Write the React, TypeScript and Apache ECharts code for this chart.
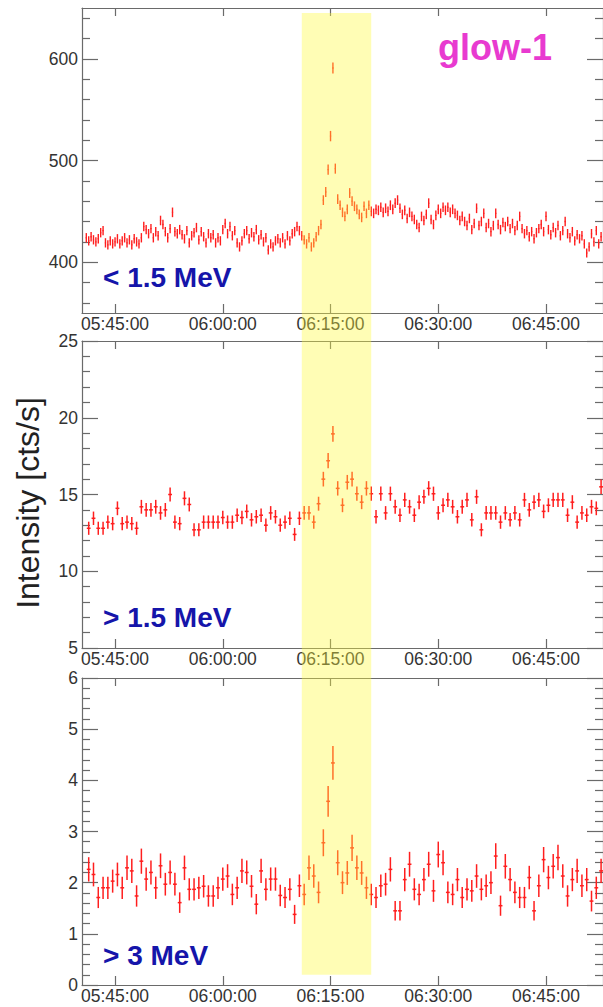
import React, { useEffect, useRef } from "react";
import * as echarts from "echarts";

// time in seconds since midnight (UT)
const X_MIN = 20424; // 05:40:24
const X_MAX = 24776; // 06:52:56
const X_TICKS = [20700, 21600, 22500, 23400, 24300]; // 05:45 ... 06:45
const BAND = [22260, 22840]; // highlighted glow interval

// panel 1 (< 1.5 MeV), 20 s bins
const P1_START = 20460;
const P1_STEP = 20;
const P1_EXPOSURE = 20;
const P1_VALUES = [
  424, 421, 425, 422, 420, 423,
  429, 431,
  419, 417, 421, 418, 420,
  423, 418, 421, 424, 419, 422, 417, 423, 420, 418, 424,
  435, 432,
  428, 433, 424, 430, 426,
  441, 437,
  430, 424, 433,
  449,
  430, 428, 432, 427,
  423, 431, 419, 426, 429,
  434, 422, 430, 425, 419, 428, 424,
  427, 419, 424, 421,
  432, 438, 428, 435, 426, 431,
  419, 415, 421,
  428, 431, 423, 429, 425, 432, 422, 427,
  420, 424, 412, 418, 415, 421, 423,
  419, 424, 418, 426, 421, 428, 430,
  435, 431,
  426, 422, 418, 424, 415, 419, 425,
  431, 437, 461,
  469, 491, 524, 591, 492,
  462, 456,
  449, 445, 452,
  468,
  460, 455, 452,
  447, 444, 455, 448,
  456, 450, 448, 452,
  451, 454, 449, 453, 450, 456, 452, 458,
  461, 453,
  447, 451, 443, 449, 445, 442,
  437, 434,
  445, 441, 447,
  458,
  442, 437, 446,
  452, 448, 454,
  451, 454, 449, 452, 448,
  446, 441, 445,
  440, 436, 443, 432,
  438, 453, 436, 440, 448,
  434, 438, 430, 436,
  448,
  437, 432, 439,
  435, 440, 433, 438, 431, 436,
  445,
  433, 428, 431, 425, 430, 423, 429,
  433, 437, 430,
  445,
  432, 427, 434, 429, 436, 426, 431,
  440,
  428, 424, 430, 421, 427, 423, 426,
  418, 409, 415,
  428, 420, 431, 418, 425,
];

// panels 2 and 3, 40 s bins
const P23_START = 20480;
const P23_STEP = 40;
const P2_EXPOSURE = 70;
const P3_EXPOSURE = 40;
const P2_VALUES = [
  12.8, 13.45, 12.8, 12.8, 13.2, 13.1, 14.1, 13.1, 13.2, 13.1,
  12.8, 14.2, 14.0, 14.0, 14.2, 13.8, 14.0, 15.0, 13.2, 13.1,
  14.75, 14.35, 12.7, 12.7, 13.2, 13.2, 13.2, 13.2, 13.5, 13.2,
  13.2, 13.65, 13.5, 13.9, 13.35, 13.55, 13.65, 13.0, 13.8, 13.55,
  13.0, 13.2, 13.45, 12.4, 13.45, 13.8, 13.8, 13.2, 14.4, 16.0,
  17.2, 18.95, 15.4, 14.3, 15.8, 16.0, 15.05, 14.5, 15.4, 15.05,
  13.55, 15.05, 13.8, 15.05, 14.2, 13.65, 14.65, 14.2, 13.65, 14.5,
  14.85, 15.4, 15.05, 13.8, 14.3, 14.65, 14.2, 13.55, 14.2, 14.65,
  13.35, 14.85, 12.7, 13.8, 13.8, 13.8, 13.2, 13.8, 13.35, 13.8,
  13.35, 14.65, 14.0, 14.5, 14.65, 13.9, 14.3, 14.65, 14.65, 14.65,
  13.65, 14.5, 13.2, 13.8, 13.65, 14.2, 14.1, 15.5,
];
const P3_VALUES = [
  2.26, 2.16, 1.71, 1.9, 1.9, 2.03, 2.16, 1.9, 2.29, 2.23,
  1.74, 2.42, 2.07, 2.2, 1.9, 2.33, 1.97, 2.2, 1.97, 1.61,
  2.29, 1.87, 1.87, 1.9, 1.93, 1.74, 1.74, 1.9, 2.07, 2.13,
  1.77, 1.9, 2.23, 2.2, 1.93, 1.58, 2.23, 1.87, 2.07, 2.07,
  1.75, 1.71, 1.87, 1.38, 1.94, 1.77, 2.29, 2.13, 1.81, 2.78,
  3.59, 4.34, 2.39, 2.0, 2.19, 2.68, 2.29, 2.19, 1.9, 1.77,
  1.71, 1.94, 1.97, 2.26, 1.45, 1.45, 2.06, 2.36, 1.87, 1.77,
  2.06, 2.36, 1.84, 2.55, 2.39, 1.81, 1.77, 2.06, 1.71, 1.87,
  1.84, 2.13, 1.87, 1.94, 2.0, 2.52, 1.55, 2.32, 2.06, 1.81,
  1.71, 1.71, 2.1, 1.45, 1.94, 2.45, 2.1, 2.32, 2.49, 2.13,
  1.74, 2.06, 2.23, 1.94, 2.06, 1.64, 1.9, 2.23,
];

const P1_MAJOR = [400, 500, 600];
const P1_MINOR = [360, 380, 420, 440, 460, 480, 520, 540, 560, 580, 620, 640];
const PANEL_LABELS = ["< 1.5 MeV", "> 1.5 MeV", "> 3 MeV"];
const TITLE = "glow-1";
const Y_NAME = "Intensity [cts/s]";

const FONT = '"Liberation Sans", Arial, Helvetica, sans-serif';
const FRAME = "#6a6a6a";
const RED = "#ff1e1e";

function fmtTime(s: number): string {
  const h = Math.floor(s / 3600);
  const m = Math.floor((s % 3600) / 60);
  const sec = Math.round(s % 60);
  const p = (n: number) => (n < 10 ? "0" + n : "" + n);
  return p(h) + ":" + p(m) + ":" + p(sec);
}

function xAxis(grid: number, position: string, labels: boolean, tickLen: number) {
  return {
    type: "value",
    gridIndex: grid,
    position,
    min: X_MIN,
    max: X_MAX,
    axisLine: { show: true, onZero: false, lineStyle: { color: FRAME, width: 1.2 } },
    axisTick: { show: true, inside: true, length: tickLen, customValues: X_TICKS, lineStyle: { color: FRAME, width: 1.2 } },
    axisLabel: {
      show: labels,
      customValues: X_TICKS,
      formatter: (v: number) => fmtTime(v),
      fontSize: 17.5,
      color: "#333",
      margin: 2,
      fontFamily: FONT,
    },
    splitLine: { show: false },
  };
}

function yAxisTicks(grid: number, position: string, min: number, max: number, values: number[], len: number, labels: boolean, line: boolean) {
  return {
    type: "value",
    gridIndex: grid,
    position,
    min,
    max,
    axisLine: { show: line, lineStyle: { color: FRAME, width: 1.2 } },
    axisTick: { show: true, inside: true, length: len, customValues: values, lineStyle: { color: FRAME, width: 1.2 } },
    axisLabel: { show: labels, customValues: values, fontSize: 17.5, color: "#333", margin: 4, fontFamily: FONT },
    splitLine: { show: false },
  };
}

function yAxisInterval(grid: number, position: string, min: number, max: number, interval: number, labels: boolean) {
  return {
    type: "value",
    gridIndex: grid,
    position,
    min,
    max,
    interval,
    axisLine: { show: true, lineStyle: { color: FRAME, width: 1.2 } },
    axisTick: { show: true, inside: true, length: 16, lineStyle: { color: FRAME, width: 1.2 } },
    minorTick: { show: true, splitNumber: 5, length: 8, lineStyle: { color: FRAME, width: 1.2 } },
    axisLabel: { show: labels, fontSize: 17.5, color: "#333", margin: 4, fontFamily: FONT },
    splitLine: { show: false },
    minorSplitLine: { show: false },
  };
}

function rows(start: number, step: number, values: number[], exposure: number, hw: number) {
  return values.map((v, i) => [start + i * step, v, Math.sqrt(v / exposure), hw]);
}

function errSeries(xIdx: number, yIdx: number, data: number[][], width: number) {
  return {
    type: "custom",
    xAxisIndex: xIdx,
    yAxisIndex: yIdx,
    silent: true,
    clip: true,
    data,
    renderItem: (params: any, api: any) => {
      const t = api.value(0);
      const v = api.value(1);
      const e = api.value(2);
      const hw = api.value(3);
      const a = api.coord([t, v + e]);
      const b = api.coord([t, v - e]);
      const l = api.coord([t - hw, v]);
      const r = api.coord([t + hw, v]);
      const style = { stroke: RED, lineWidth: width };
      return {
        type: "group",
        children: [
          { type: "line", shape: { x1: a[0], y1: a[1], x2: b[0], y2: b[1] }, style },
          { type: "line", shape: { x1: l[0], y1: l[1], x2: r[0], y2: r[1] }, style },
        ],
      };
    },
  };
}

export default function App() {
  const ref = useRef<HTMLDivElement>(null);
  useEffect(() => {
    if (!ref.current) return;
    const chart = echarts.init(ref.current, undefined, { renderer: "svg" });
    const grids = [
      { left: 82, right: 0, top: 8, height: 305 },
      { left: 82, right: 0, top: 341, height: 307 },
      { left: 82, right: 0, top: 678, height: 307 },
    ];
    const option: any = {
      animation: false,
      backgroundColor: "#ffffff",
      grid: grids,
      xAxis: [
        xAxis(0, "bottom", true, 9),
        xAxis(0, "top", false, 8),
        xAxis(1, "bottom", true, 9),
        xAxis(1, "top", false, 8),
        xAxis(2, "bottom", true, 9),
        xAxis(2, "top", false, 8),
      ],
      yAxis: [
        yAxisTicks(0, "left", 350, 650, P1_MAJOR, 16, true, true), // 0
        yAxisTicks(0, "left", 350, 650, P1_MINOR, 8, false, false), // 1
        yAxisTicks(0, "right", 350, 650, P1_MAJOR, 16, false, true), // 2
        yAxisTicks(0, "right", 350, 650, P1_MINOR, 8, false, false), // 3
        yAxisInterval(1, "left", 5, 25, 5, true), // 4
        yAxisInterval(1, "right", 5, 25, 5, false), // 5
        yAxisInterval(2, "left", 0, 6, 1, true), // 6
        yAxisInterval(2, "right", 0, 6, 1, false), // 7
      ],
      series: [
        errSeries(0, 0, rows(P1_START, P1_STEP, P1_VALUES, P1_EXPOSURE, 5), 1.4),
        errSeries(2, 4, rows(P23_START, P23_STEP, P2_VALUES, P2_EXPOSURE, 16), 1.5),
        errSeries(4, 6, rows(P23_START, P23_STEP, P3_VALUES, P3_EXPOSURE, 16), 1.5),
      ],
    };
    chart.setOption(option);

    const bx1 = chart.convertToPixel({ xAxisIndex: 0 } as any, BAND[0]) as number;
    const bx2 = chart.convertToPixel({ xAxisIndex: 0 } as any, BAND[1]) as number;
    const by1 = chart.convertToPixel({ yAxisIndex: 0 } as any, 645) as number;
    const by2 = chart.convertToPixel({ yAxisIndex: 6 } as any, 0.2) as number;

    const labelY = [277, 617, 955];
    chart.setOption({
      graphic: [
        {
          type: "rect",
          z: 100,
          silent: true,
          shape: { x: bx1, y: by1, width: bx2 - bx1, height: by2 - by1 },
          style: { fill: "rgba(255,250,60,0.38)" },
        },
        {
          type: "text",
          x: 28,
          y: 503,
          rotation: Math.PI / 2,
          style: {
            text: Y_NAME,
            fontSize: 32,
            fontFamily: FONT,
            fill: "#222",
            textAlign: "center",
            textVerticalAlign: "middle",
          },
        },
        ...PANEL_LABELS.map((t, i) => ({
          type: "text",
          x: 103,
          y: labelY[i],
          style: {
            text: t,
            fontSize: 28,
            fontWeight: "bold",
            fontFamily: FONT,
            fill: "#1515aa",
            textAlign: "left",
            textVerticalAlign: "middle",
          },
        })),
        {
          type: "text",
          x: 495,
          y: 47,
          style: {
            text: TITLE,
            fontSize: 36,
            fontWeight: "bold",
            fontFamily: FONT,
            fill: "#e83ad0",
            textAlign: "center",
            textVerticalAlign: "middle",
          },
        },
      ],
    });
    return () => chart.dispose();
  }, []);
  return (
    <div
      ref={ref}
      style={{ position: "absolute", left: 0, top: 0, width: 603, height: 1007 }}
    />
  );
}
